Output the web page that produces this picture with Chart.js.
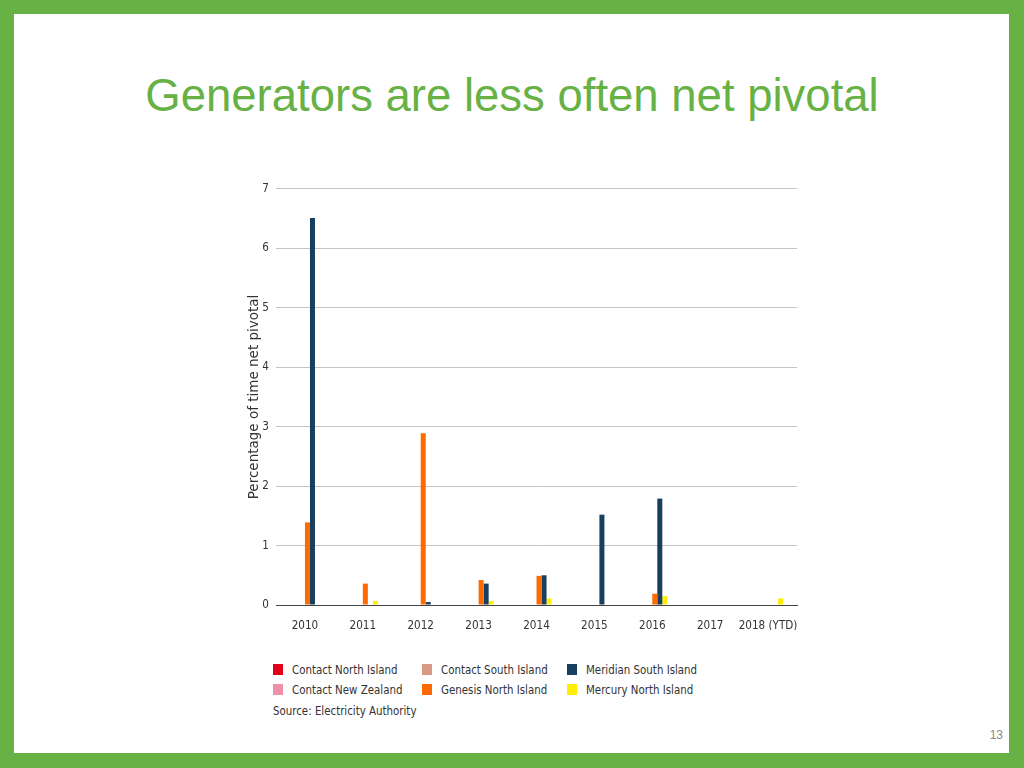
<!DOCTYPE html>
<html>
<head>
<meta charset="utf-8">
<script src="https://cdn.jsdelivr.net/npm/chart.js@4.4.1/dist/chart.umd.min.js"></script>
<style>
  html, body { margin: 0; padding: 0; }
  body { width: 1024px; height: 768px; background: #67b145; position: relative; overflow: hidden; }
  #slide { position: absolute; left: 14px; top: 14px; width: 995px; height: 739px; background: #fff; }
  #title { position: absolute; left: 0; width: 1024px; text-align: center; top: 68px;
           font: 45.5px "Liberation Sans", Arial, sans-serif; color: #67b145; line-height: 56px; }
  #chart { position: absolute; left: 240px; top: 175px; }
  #legend { position: absolute; left: 273px; top: 662px; font: 11.4px "DejaVu Sans Condensed", "DejaVu Sans", sans-serif; color: #333; }
  .item { position: absolute; white-space: nowrap; height: 16px; line-height: 16px; }
  .box { display: inline-block; width: 10px; height: 11px; vertical-align: -1px; margin-right: 9px; }
  #source { position: absolute; left: 273px; top: 704px; font: 11.4px "DejaVu Sans Condensed", "DejaVu Sans", sans-serif; color: #333; }
  #page { position: absolute; right: 21px; top: 728px; font: 12px "Liberation Sans", Arial, sans-serif; color: #8a8a8a; }
</style>
</head>
<body>
<div id="slide"></div>
<div id="title">Generators are less often net pivotal</div>
<canvas id="chart" width="565" height="455"></canvas>
<div id="legend"></div>
<div id="source">Source: Electricity Authority</div>
<div id="page">13</div>
<script>
'use strict';

// ── Data ────────────────────────────────────────────────────────────────
const years = ['2010', '2011', '2012', '2013', '2014', '2015', '2016', '2017', '2018 (YTD)'];
const seriesNames = ['Contact North Island', 'Contact New Zealand', 'Contact South Island',
                     'Genesis North Island', 'Meridian South Island', 'Mercury North Island'];
const seriesColors = ['#e3001b', '#f08fa8', '#d99a84', '#ff6a00', '#17405f', '#ffee00'];

const contactNorth   = [0, 0, 0, 0, 0, 0, 0, 0, 0];
const contactNZ      = [0, 0, 0, 0, 0, 0, 0, 0, 0];
const contactSouth   = [0, 0, 0, 0, 0, 0, 0, 0, 0];
const genesisNorth   = [1.39, 0.36, 2.89, 0.42, 0.49, 0, 0.19, 0, 0];
const meridianSouth  = [6.51, 0, 0.05, 0.36, 0.50, 1.52, 1.79, 0, 0];
const mercuryNorth   = [0, 0.07, 0, 0.07, 0.11, 0, 0.15, 0, 0.11];

const yTicks = [0, 1, 2, 3, 4, 5, 6, 7];

const seriesValues = [contactNorth, contactNZ, contactSouth, genesisNorth, meridianSouth, mercuryNorth];

// ── Chart ───────────────────────────────────────────────────────────────
const condensed = '"DejaVu Sans Condensed", "DejaVu Sans", sans-serif';

new Chart(document.getElementById('chart').getContext('2d'), {
    type: 'bar',
    data: {
        labels: years,
        datasets: seriesNames.map((name, i) => ({
            label: name,
            data: seriesValues[i],
            backgroundColor: seriesColors[i],
            borderWidth: 0,
            barPercentage: 1,
            categoryPercentage: 0.52
        }))
    },
    options: {
        responsive: false,
        animation: false,
        layout: { padding: { left: 0, right: 8, top: 0, bottom: 0 } },
        plugins: { legend: { display: false }, tooltip: { enabled: false } },
        scales: {
            x: {
                grid: { display: false },
                border: { display: true, color: '#444', width: 1 },
                ticks: { color: '#333', font: { family: condensed, size: 11.6 }, padding: 6,
                         maxRotation: 0, autoSkip: false },
                afterFit: s => { s.height = 25; }
            },
            y: {
                min: 0, max: 7,
                afterBuildTicks: s => { s.ticks = yTicks.map(v => ({ value: v })); },
                grid: { color: '#c4c4c4', drawTicks: false },
                border: { display: false },
                ticks: { color: '#333', font: { family: condensed, size: 11.6 }, padding: 7 },
                title: {
                    display: true,
                    text: 'Percentage of time net pivotal',
                    color: '#333',
                    font: { family: '"DejaVu Sans", sans-serif', size: 13.5 },
                    padding: { top: 6, bottom: 0 }
                },
                afterFit: s => { s.width = 36; }
            }
        }
    }
});

// ── Legend (column-major, 3 columns × 2 rows) ───────────────────────────
const legendEl = document.getElementById('legend');
const colX = [0, 149, 294];
seriesNames.forEach((name, i) => {
    const el = document.createElement('div');
    el.className = 'item';
    el.style.left = colX[Math.floor(i / 2)] + 'px';
    el.style.top = (i % 2) * 20 + 'px';
    el.innerHTML = `<span class="box" style="background:${seriesColors[i]}"></span>${name}`;
    legendEl.appendChild(el);
});
</script>
</body>
</html>
